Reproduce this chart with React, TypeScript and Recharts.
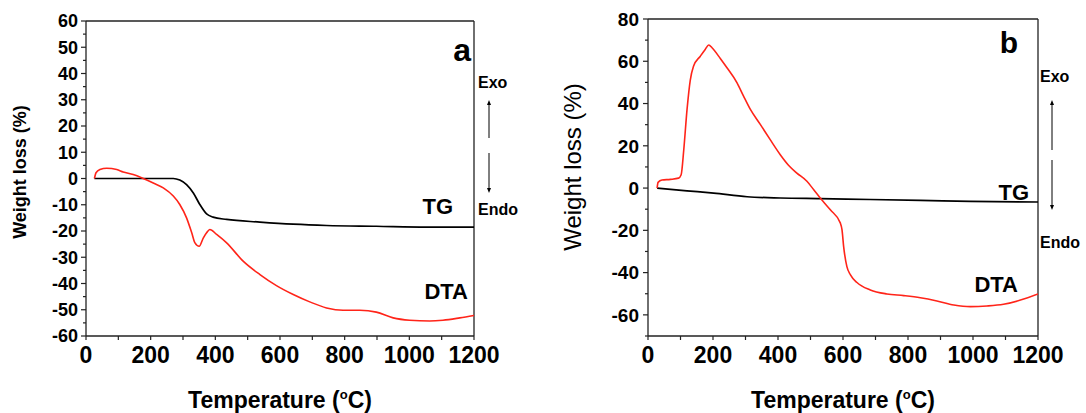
import React from 'react';
import { LineChart, Line, XAxis, YAxis, ReferenceLine } from 'recharts';

// panel a
const tgTempA = [26, 100, 200, 270, 290, 311, 332, 352, 373, 393, 435, 538, 641, 744, 898, 1053, 1200];
const tgA = [0, 0, 0, 0, -0.6, -2.3, -5.5, -9.9, -13.5, -14.7, -15.6, -16.6, -17.4, -17.9, -18.2, -18.5, -18.5];
const dtaTempA = [26, 31, 43, 64, 95, 115, 146, 177, 208, 239, 270, 290, 311, 327, 337, 350, 363, 373, 383, 404, 435, 486, 538, 589, 641, 692, 744, 795, 847, 898, 950, 1001, 1063, 1104, 1156, 1200];
const dtaA = [0, 2.2, 3.4, 3.9, 3.4, 2.5, 1.5, 0, -1.7, -3.6, -6.7, -9.9, -15, -20.7, -24.5, -25.8, -22.6, -20.7, -19.4, -21.3, -24.5, -31.5, -36.6, -40.8, -44.2, -47, -49.3, -50.2, -50.2, -50.9, -53.1, -54, -54.3, -54, -53.1, -52.2];

// panel b
const tgTempB = [28, 120, 202, 305, 407, 530, 684, 838, 992, 1200];
const tgB = [0, -1.3, -2.4, -4.1, -4.7, -5, -5.4, -5.8, -6.3, -6.6];
const dtaTempB = [28, 31, 43, 69, 94, 102, 110, 120, 130, 140, 161, 176, 187, 197, 223, 243, 274, 294, 315, 346, 376, 407, 433, 458, 489, 510, 530, 561, 592, 597, 602, 612, 623, 643, 684, 735, 787, 838, 889, 941, 992, 1043, 1094, 1146, 1200];
const dtaB = [0, 2.7, 3.8, 4.1, 4.7, 6.3, 18, 37, 51, 57.6, 62.4, 65.6, 67.7, 66.4, 61.2, 56.9, 49.8, 43.5, 37.2, 30, 22.9, 15.8, 10.7, 7.1, 3.2, -0.8, -4.7, -10.3, -16.6, -19.8, -27.7, -37.2, -41.1, -44.7, -48.2, -50.1, -50.9, -51.9, -53.4, -55.3, -56.1, -55.8, -55, -53, -50.1];

const xTicks = [0, 100, 200, 300, 400, 500, 600, 700, 800, 900, 1000, 1100, 1200];
const xLabels = [0, 200, 400, 600, 800, 1000, 1200];
const yTicksA = [-60, -55, -50, -45, -40, -35, -30, -25, -20, -15, -10, -5, 0, 5, 10, 15, 20, 25, 30, 35, 40, 45, 50, 55, 60];
const yLabelsA = [-60, -50, -40, -30, -20, -10, 0, 10, 20, 30, 40, 50, 60];
const yTicksB = [-70, -60, -50, -40, -30, -20, -10, 0, 10, 20, 30, 40, 50, 60, 70, 80];
const yLabelsB = [-60, -40, -20, 0, 20, 40, 60, 80];

const zip = (xs: number[], ys: number[]) => xs.map((x, i) => ({ x, y: ys[i] }));

const FONT = '"Liberation Sans", Arial, Helvetica, sans-serif';
const AX = '#222';
const RED = '#ff2419';

const XTick = (fontSize: number) => (props: any) => {
  const { x, y, payload } = props;
  const major = xLabels.includes(payload.value);
  return (
    <g>
      <line x1={x} x2={x} y1={y} y2={y + 4} stroke={AX} strokeWidth={1.2} />
      {major && (
        <text x={x} y={y + 27} textAnchor="middle" fontSize={fontSize} fontWeight="bold" fontFamily={FONT} fill="#000">
          {payload.value}
        </text>
      )}
    </g>
  );
};

const YTick = (labels: number[], fontSize: number, gap: number) => (props: any) => {
  const { x, y, payload } = props;
  const major = labels.includes(payload.value);
  return (
    <g>
      <line x1={x} x2={x - (major ? 5 : 3)} y1={y} y2={y} stroke={AX} strokeWidth={1.2} />
      {major && (
        <text x={x - gap} y={y + fontSize * 0.36} textAnchor="end" fontSize={fontSize} fontWeight="bold" fontFamily={FONT} fill="#000">
          {payload.value}
        </text>
      )}
    </g>
  );
};

const Arrow = ({ x, y1, y2 }: { x: number; y1: number; y2: number }) => {
  const dir = y2 > y1 ? 1 : -1;
  return (
    <g>
      <line x1={x} x2={x} y1={y1} y2={y2 - dir * 3} stroke="#000" strokeWidth={1} />
      <polygon points={`${x - 2},${y2 - dir * 5} ${x + 2},${y2 - dir * 5} ${x},${y2}`} fill="#000" />
    </g>
  );
};

const Panel = ({ tg, dta, domain, yTicks, yLabels, yFont, xFont, gap, margin, width }: any) => (
  <LineChart width={width} height={413} margin={margin}>
    <XAxis
      type="number"
      dataKey="x"
      domain={[0, 1200]}
      ticks={xTicks}
      interval={0}
      allowDataOverflow
      tickSize={0}
      tickMargin={0}
      tickLine={false}
      axisLine={{ stroke: AX, strokeWidth: 1.3 }}
      tick={XTick(xFont)}
      height={40}
    />
    <YAxis
      type="number"
      domain={domain}
      ticks={yTicks}
      interval={0}
      allowDataOverflow
      tickSize={0}
      tickMargin={0}
      tickLine={false}
      axisLine={{ stroke: AX, strokeWidth: 1.3 }}
      tick={YTick(yLabels, yFont, gap)}
      width={60}
    />
    <ReferenceLine y={domain[1]} stroke={AX} strokeWidth={1.3} />
    <ReferenceLine x={1200} stroke={AX} strokeWidth={1.3} />
    <Line data={tg} dataKey="y" type="monotone" stroke="#000" strokeWidth={1.7} dot={false} isAnimationActive={false} />
    <Line data={dta} dataKey="y" type="monotone" stroke={RED} strokeWidth={1.6} dot={false} isAnimationActive={false} />
  </LineChart>
);

const bold = { fontFamily: FONT, fontWeight: 'bold' as const, fill: '#000' };

export default function App() {
  return (
    <div style={{ position: 'absolute', left: 0, top: 0, width: 1086, height: 413, background: '#fff' }}>
      <div style={{ position: 'absolute', left: 0, top: 0 }}>
        <Panel
          width={560}
          tg={zip(tgTempA, tgA)}
          dta={zip(dtaTempA, dtaA)}
          domain={[-60, 60]}
          yTicks={yTicksA}
          yLabels={yLabelsA}
          yFont={18}
          xFont={23}
          gap={8}
          margin={{ top: 21, left: 26, right: 86, bottom: 37 }}
        />
      </div>
      <div style={{ position: 'absolute', left: 560, top: 0 }}>
        <Panel
          width={526}
          tg={zip(tgTempB, tgB)}
          dta={zip(dtaTempB, dtaB)}
          domain={[-70, 80]}
          yTicks={yTicksB}
          yLabels={yLabelsB}
          yFont={19}
          xFont={23}
          gap={9}
          margin={{ top: 19, left: 28, right: 48, bottom: 37 }}
        />
      </div>
      <svg width={1086} height={413} style={{ position: 'absolute', left: 0, top: 0, pointerEvents: 'none' }}>
        {/* panel a */}
        <text transform="translate(26,172) rotate(-90)" textAnchor="middle" fontSize={18} {...bold}>Weight loss (%)</text>
        <text x={280} y={408} textAnchor="middle" fontSize={23} {...bold}>
          Temperature (<tspan dy={-9} fontSize={13}>o</tspan><tspan dy={9}>C)</tspan>
        </text>
        <text x={471} y={61} textAnchor="end" fontSize={32} {...bold}>a</text>
        <text x={453} y={214} textAnchor="end" fontSize={22} {...bold}>TG</text>
        <text x={468} y={299} textAnchor="end" fontSize={22} {...bold}>DTA</text>
        <text x={478} y={88} fontSize={16} {...bold}>Exo</text>
        <text x={478} y={215} fontSize={16} {...bold}>Endo</text>
        <Arrow x={489} y1={138} y2={100} />
        <Arrow x={489} y1={153} y2={193} />
        {/* panel b */}
        <text transform="translate(581,167) rotate(-90)" textAnchor="middle" fontSize={24} fontFamily={FONT} fill="#000">Weight loss (%)</text>
        <text x={843} y={408} textAnchor="middle" fontSize={23} {...bold}>
          Temperature (<tspan dy={-9} fontSize={13}>o</tspan><tspan dy={9}>C)</tspan>
        </text>
        <text x={1018} y={53} textAnchor="end" fontSize={30} {...bold}>b</text>
        <text x={1029} y={200} textAnchor="end" fontSize={22} {...bold}>TG</text>
        <text x={1018} y={292} textAnchor="end" fontSize={22} {...bold}>DTA</text>
        <text x={1040} y={82} fontSize={16} {...bold}>Exo</text>
        <text x={1040} y={248} fontSize={16} {...bold}>Endo</text>
        <Arrow x={1052} y1={150} y2={100} />
        <Arrow x={1052} y1={160} y2={210} />
      </svg>
    </div>
  );
}
